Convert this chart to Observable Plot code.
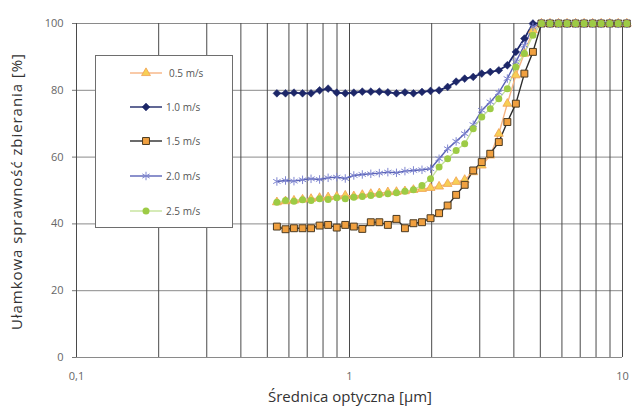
<!DOCTYPE html>
<html><head><meta charset="utf-8">
<script src="https://cdn.jsdelivr.net/npm/d3@7"></script>
<script src="https://cdn.jsdelivr.net/npm/@observablehq/plot@0.6"></script>
<style>
body{margin:0;background:#fff;font-family:"Open Sans",sans-serif}
#wrap{position:relative;width:633px;height:406px;overflow:hidden}
#wrap svg{position:absolute;left:0;top:0}
</style></head><body><div id="wrap"></div>
<script>
// particle diameters (µm)
const sizes=[0.542,0.583,0.626,0.673,0.723,0.777,0.835,0.898,0.965,1.037,1.114,1.197,1.286,1.382,1.486,1.596,1.715,1.843,1.981,2.129,2.288,2.458,2.642,2.839,3.051,3.278,3.523,3.786,4.068,4.371,4.698,5.048,5.425,5.829,6.264,6.732,7.234,7.774,8.354,8.977,9.647,10.37];
const seriesNames=["0.5 m/s","1.0 m/s","1.5 m/s","2.0 m/s","2.5 m/s"];
const v05=[46.5,46.8,47,47.3,47.5,47.8,48,48.2,48.5,48.3,48.7,49,49.2,49.5,49.6,49.8,50.2,50.5,50.8,51.2,52,52.6,53.2,55.5,57.5,60.5,67,76,84.5,91,98,100,100,100,100,100,100,100,100,100,100,100];
const v10=[79.1,79.1,79.3,79.1,79.1,80,80.5,79.3,79.1,79.3,79.6,79.6,79.6,79.4,79.1,79.4,79.1,79.5,79.8,80,81,82.6,83.5,84,85,85.5,86,87.5,91.5,95.5,100,100,100,100,100,100,100,100,100,100,100,100];
const v15=[39.2,38.4,38.7,38.7,38.7,39.5,39.7,38.9,39.7,39.2,38.5,40.5,40.5,39.7,41.5,38.7,40.2,40.5,41.7,43.2,45.5,48.7,51.7,56,58.5,61,64.5,70.5,76,85,91.5,100,100,100,100,100,100,100,100,100,100,100];
const v20=[52.7,53,52.8,53.2,53.5,53.3,53.8,54,53.6,54.5,54.8,55,55.2,55.5,55.3,55.8,56,56.2,56.5,59.5,62.5,64.7,67,69.7,74,76.5,79.3,83.5,88.5,93.5,99,100,100,100,100,100,100,100,100,100,100,100];
const v25=[46.5,47,46.8,47.2,47,47.5,47.3,47.8,47.5,48,48.2,48.5,48.8,49,49.3,49.8,50.2,51.5,53.5,57,59.5,62,64,68.5,72,74.5,77.5,80.5,87,91,96.5,100,100,100,100,100,100,100,100,100,100,100];
const yTicks=[0,20,40,60,80,100];
const xGrid=[0.1,0.2,0.3,0.4,0.5,0.6,0.7,0.8,0.9,1,2,3,4,5,6,7,8,9,10];
const xTickValues=[0.1,1,10];
const xTickLabels=["0,1","1","10"];
const xTitle="Średnica optyczna [µm]";
const yTitle="Ułamkowa sprawność zbierania [%]";

const allValues=[v05,v10,v15,v20,v25];
const styles=[
  {line:"#f6b483",symbol:"triangle",fill:"#f7cf55",stroke:"#f0a050",r:3.3,sw:0.8},
  {line:"#1d2768",symbol:"diamond2",fill:"#1d2768",stroke:"#1d2768",r:3.5,sw:0.5},
  {line:"#2c2c2c",symbol:"square",fill:"#f0a040",stroke:"#4a3a22",r:3.9,sw:1},
  {line:"#5a62b6",symbol:"asterisk",fill:"none",stroke:"#7f86d0",r:4,sw:1},
  {line:"#c5e29a",symbol:"circle",fill:"#9dcb45",stroke:"none",r:3.5,sw:0}
];
const table=[];
allValues.forEach((vals,s)=>vals.forEach((v,i)=>table.push({s,name:seriesNames[s],x:sizes[i],y:v})));

const marks=[
  Plot.ruleY(yTicks,{y:d=>d,stroke:"#8a8a8a",strokeWidth:1}),
  Plot.ruleX(xGrid,{x:d=>d,stroke:"#4a4a4a",strokeWidth:1}),
  Plot.axisY(yTicks,{tickSize:4,tickPadding:9,label:null,stroke:"#777",fill:"#666",fontSize:11}),
  Plot.axisX(xTickValues,{tickSize:0,tickPadding:15,label:null,tickFormat:d=>xTickLabels[xTickValues.indexOf(d)],fill:"#666",fontSize:11})
];
styles.forEach((st,s)=>{
  const data=table.filter(d=>d.s===s);
  marks.push(Plot.line(data,{x:"x",y:"y",stroke:st.line,strokeWidth:s===1?1.8:1.4}));
});
styles.forEach((st,s)=>{
  const data=table.filter(d=>d.s===s);
  marks.push(Plot.dot(data,{x:"x",y:"y",symbol:st.symbol,r:st.r,fill:st.fill,stroke:st.stroke,strokeWidth:st.sw}));
});

const chart=Plot.plot({
  width:633,height:406,marginLeft:76,marginRight:11,marginTop:23,marginBottom:49,
  style:{fontFamily:"Open Sans",fontSize:"11px",color:"#666",background:"transparent",overflow:"visible"},
  x:{type:"log",domain:[0.1,10]},
  y:{domain:[0,100]},
  marks
});
document.getElementById("wrap").appendChild(chart);

// overlay: legend and axis titles
const ov=d3.select("#wrap").append("svg").attr("width",633).attr("height",406)
  .style("font-family","Open Sans");
const lg=ov.append("g");
lg.append("rect").attr("x",95.5).attr("y",55.5).attr("width",137).attr("height",172)
  .attr("fill","#fff").attr("stroke","#6e6e6e").attr("stroke-width",1);
const ly=[73,107,141,176,211];
const symMap={triangle:d3.symbolTriangle,diamond2:d3.symbolDiamond2,square:d3.symbolSquare,asterisk:d3.symbolAsterisk,circle:d3.symbolCircle};
styles.forEach((st,s)=>{
  const y=ly[s];
  lg.append("line").attr("x1",130).attr("x2",162).attr("y1",y).attr("y2",y).attr("stroke",st.line).attr("stroke-width",1.4);
  lg.append("path").attr("transform",`translate(146,${y})`)
    .attr("d",d3.symbol(symMap[st.symbol],Math.PI*st.r*st.r)())
    .attr("fill",st.fill).attr("stroke",st.stroke).attr("stroke-width",st.sw);
  lg.append("text").attr("x",s===0?169:166).attr("y",y).attr("dy","0.35em")
    .attr("font-size",10).attr("fill","#555").text(seriesNames[s]);
});
ov.append("text").attr("x",350).attr("y",402).attr("text-anchor","middle")
  .attr("font-size",15).attr("fill","#333").text(xTitle);
ov.append("text").attr("transform","translate(17,192) rotate(-90)").attr("text-anchor","middle")
  .attr("dy","0.35em").attr("font-size",15).attr("textLength",276).attr("lengthAdjust","spacing")
  .attr("fill","#333").text(yTitle);
</script></body></html>
